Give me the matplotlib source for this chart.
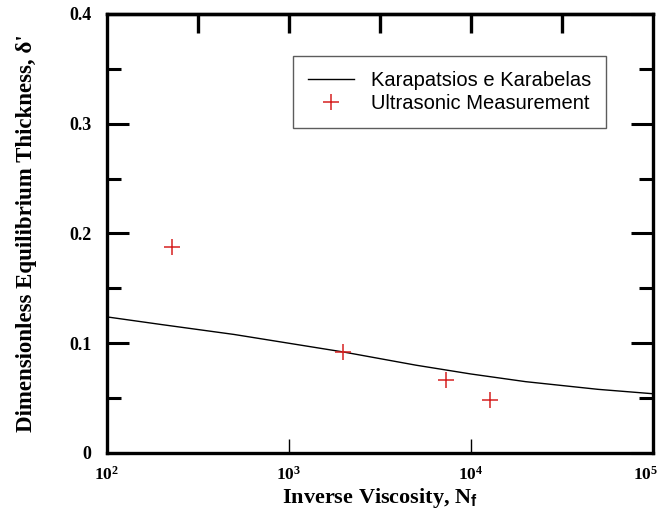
import matplotlib.pyplot as plt
import matplotlib.transforms as mtransforms
import numpy as np

# model curve (Karapantsios e Karabelas)
nf_model = [100, 200, 500, 1000, 2000, 5000, 10000, 20000, 50000, 100000]
delta_model = [0.124, 0.117, 0.108, 0.100, 0.092, 0.080, 0.072, 0.065, 0.058, 0.054]

# ultrasonic points
nf_meas = [228, 1980, 7300, 12700]
delta_meas = [0.188, 0.092, 0.0665, 0.048]

xticks = [1e2, 1e3, 1e4, 1e5]
xticklabels = ['$\\mathbf{10^2}$', '$\\mathbf{10^3}$', '$\\mathbf{10^4}$', '$\\mathbf{10^5}$']
yticks = [0, 0.1, 0.2, 0.3, 0.4]
yticklabels = ['0', '0.1', '0.2', '0.3', '0.4']

plt.rcParams['font.family'] = 'Liberation Serif'
plt.rcParams['mathtext.fontset'] = 'custom'
plt.rcParams['mathtext.rm'] = 'Liberation Serif:bold'
plt.rcParams['mathtext.bf'] = 'Liberation Serif:bold'
plt.rcParams['mathtext.sf'] = 'Liberation Sans:bold'

fig = plt.figure(figsize=(6.64, 5.14), dpi=100)
ax = fig.add_axes([0.161, 0.1187, 0.822, 0.8541])

ax.plot(nf_model, delta_model, color='black', lw=1.0, label='Karapatsios e Karabelas')
ax.plot(nf_meas, delta_meas, ls='none', marker='+', color='#d62020', ms=11, mew=1.1,
        label='Ultrasonic Measurement')

ax.set_xscale('log')
ax.set_xlim(1e2, 1e5)
ax.set_ylim(0, 0.4)

ax.set_xticks(xticks)
ax.set_xticklabels(xticklabels, fontsize=12.5)
ax.xaxis.set_minor_locator(plt.NullLocator())
ax.tick_params(axis='x', direction='in', length=10, width=1.0, pad=9)
# last label sits a little left of its tick, as in the original
last = ax.get_xticklabels()[-1]
last.set_transform(last.get_transform() + mtransforms.ScaledTranslation(-7 / 100, 0, fig.dpi_scale_trans))

ax.set_yticks(yticks)
ax.set_yticklabels(yticklabels, fontsize=13, fontweight='bold')
ax.set_yticks([0.05, 0.15, 0.25, 0.35], minor=True)
ax.tick_params(axis='y', which='major', direction='in', length=16, width=2.2,
               right=True, pad=11)
ax.tick_params(axis='y', which='minor', direction='in', length=10, width=2.2, right=True)

for s in ax.spines.values():
    s.set_linewidth(2.4)

top = ax.secondary_xaxis('top')
top.set_xticks(10 ** np.arange(2.5, 5.0, 0.5))
top.set_xticklabels([])
top.xaxis.set_minor_locator(plt.NullLocator())
top.tick_params(direction='in', length=14, width=2.4)
top.spines['top'].set_linewidth(2.4)

ax.set_xlabel('Inverse Viscosity, N$_\\mathsf{f}$', fontsize=16, fontweight='bold', labelpad=2)
ax.set_ylabel("Dimensionless Equilibrium Thickness, \u03b4'", fontsize=16.5, fontweight='bold')
ax.yaxis.set_label_coords(-0.128, 0.5)

leg = ax.legend(loc='upper left', bbox_to_anchor=(0.341, 0.905), frameon=True, fancybox=False,
                prop={'family': 'Liberation Sans', 'size': 14.5}, handlelength=2.3,
                borderpad=0.75, labelspacing=0.2, handletextpad=0.8, borderaxespad=0)
leg.get_frame().set_edgecolor('#333333')
leg.get_frame().set_linewidth(1.0)

plt.savefig('out.png', dpi=100)
